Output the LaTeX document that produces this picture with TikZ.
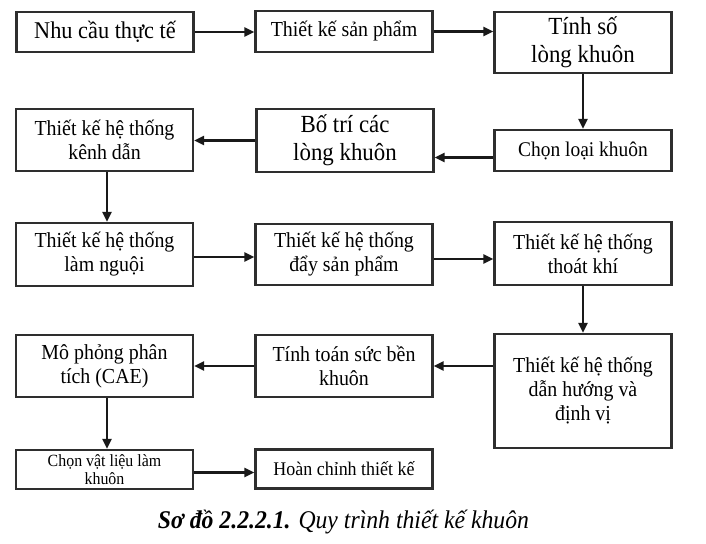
\documentclass[tikz,border=0pt]{standalone}
\usepackage{fontspec}
\setmainfont{Liberation Serif}[FakeStretch=0.93]
\usetikzlibrary{arrows.meta}
\definecolor{boxline}{HTML}{2E2E2E}
\tikzset{
  box/.style={draw=boxline, line width=2.4pt, fill=white, inner sep=0pt, align=center, minimum width=177pt},
  arr/.style={line width=2.8pt, draw=black!90, -{Triangle[length=10pt,width=9pt]}},
  fA/.style={font=\fontsize{24}{28}\selectfont},
  fB/.style={font=\fontsize{24.6}{28}\selectfont},
  fC/.style={font=\fontsize{21.4}{24}\selectfont},
  fD/.style={font=\fontsize{20.9}{24}\selectfont},
  fE/.style={font=\fontsize{17.1}{18}\selectfont},
  fF/.style={font=\fontsize{19.3}{22}\selectfont},
}
\begin{document}
\begin{tikzpicture}[x=1pt,y=-1pt]
\useasboundingbox[fill=white] (0,0) rectangle (706,543);
% row 1
\node[box,fA,minimum height=40pt] (A) at (105,32) {Nhu cầu thực tế};
\node[box,fC,minimum height=41pt] (B) at (344,31.5) {Thiết kế sản phẩm};
\node[box,fB,minimum height=61pt] (C) at (583,42.5) {Tính số\\lòng khuôn};
% row 2
\node[box,fC,minimum height=62pt] (D) at (104.5,140) {Thiết kế hệ thống\\kênh dẫn};
\node[box,fB,minimum height=63pt] (E) at (345,140.5) {Bố trí các\\lòng khuôn};
\node[box,fD,minimum height=41pt] (F) at (583,150.5) {Chọn loại khuôn};
% row 3
\node[box,fC,minimum height=63pt] (G) at (104.5,254.5) {Thiết kế hệ thống\\làm nguội};
\node[box,fC,minimum height=61pt] (H) at (344,254.5) {Thiết kế hệ thống\\đẩy sản phẩm};
\node[box,fC,minimum height=63pt] (I) at (583,253.5) {Thiết kế hệ thống\\thoát khí};
% row 4
\node[box,fC,minimum height=62pt] (K) at (104.5,366) {Mô phỏng phân\\tích (CAE)};
\node[box,fC,minimum height=62pt] (L) at (344,366) {Tính toán sức bền\\khuôn};
\node[box,fC,minimum height=114pt] (J) at (583,391) {Thiết kế hệ thống\\dẫn hướng và\\định vị};
% row 5
\node[box,fE,minimum height=39pt] (M) at (104.5,469.5) {Chọn vật liệu làm\\khuôn};
\node[box,fF,minimum height=39pt] (N) at (344,469) {Hoàn chỉnh thiết kế};
% caption
\node[font=\fontsize{25.5}{28}\selectfont] (cap) at (343.5,522) {\textbf{\textit{Sơ đồ 2.2.2.1.}} \textit{Quy trình thiết kế khuôn}};
% connectors
\draw[arr] (A.east) -- (B.west |- A.east);
\draw[arr] (B.east) -- (C.west |- B.east);
\draw[arr] (C.south) -- (F.north);
\draw[arr] ([yshift=-7pt]F.west) -- ([yshift=-7pt]F.west -| E.east);
\draw[arr] (E.west) -- (E.west -| D.east);
\draw[arr] ([xshift=2.5pt]D.south) -- ([xshift=2.5pt]D.south |- G.north);
\draw[arr] ([yshift=-2.5pt]G.east) -- ([yshift=-2.5pt]G.east -| H.west);
\draw[arr] ([yshift=-4.5pt]H.east) -- ([yshift=-4.5pt]H.east -| I.west);
\draw[arr] (I.south) -- (J.north);
\draw[arr] (J.west |- L.east) -- (L.east);
\draw[arr] (L.west) -- (L.west -| K.east);
\draw[arr] ([xshift=2.5pt]K.south) -- ([xshift=2.5pt]K.south |- M.north);
\draw[arr] ([yshift=-3pt]M.east) -- ([yshift=-3pt]M.east -| N.west);
\end{tikzpicture}
\end{document}
